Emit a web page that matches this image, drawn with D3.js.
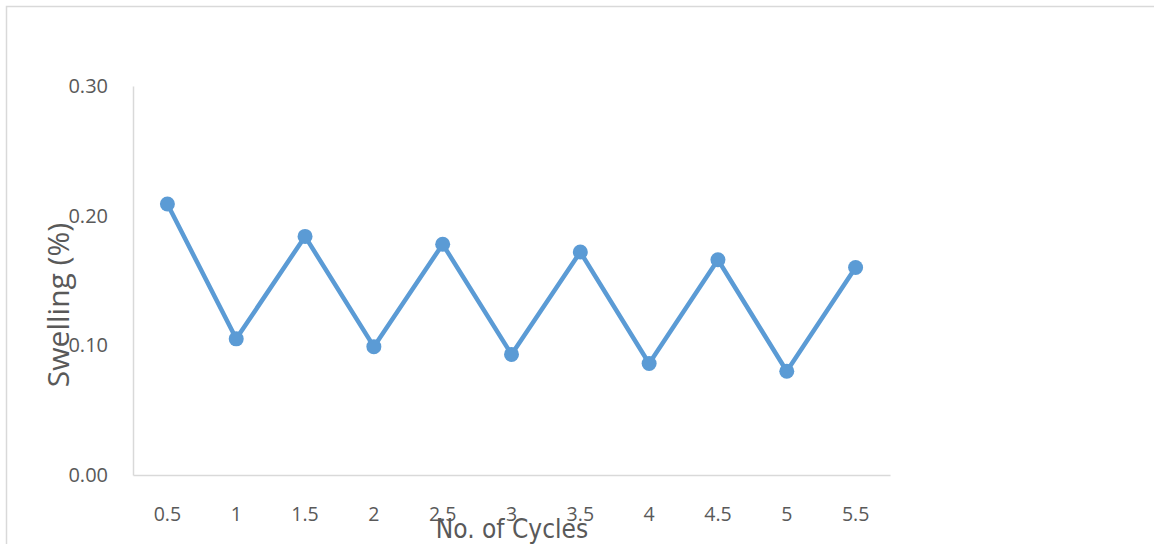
<!DOCTYPE html>
<html>
<head>
<meta charset="utf-8">
<script src="https://cdn.jsdelivr.net/npm/d3@7"></script>
<style>
  html, body { margin: 0; padding: 0; background: #fff; }
  svg { display: block; }
</style>
</head>
<body>
<svg id="chart" width="1154" height="544"></svg>
<script>
const categories = ["0.5", "1", "1.5", "2", "2.5", "3", "3.5", "4", "4.5", "5", "5.5"];
const swelling = [0.209, 0.105, 0.184, 0.099, 0.178, 0.093, 0.172, 0.086, 0.166, 0.080, 0.160];
const yTicks = [0.00, 0.10, 0.20, 0.30];
const xTitle = "No. of Cycles";
const yTitle = "Swelling (%)";

const svg = d3.select("#chart");
const textColor = "#595959";
const axisColor = "#d9d9d9";
const seriesColor = "#5b9bd5";
const font = "'Open Sans', 'Noto Sans', sans-serif";

// outer chart frame
svg.append("rect")
  .attr("x", 6.5).attr("y", 6.5)
  .attr("width", 1170).attr("height", 560)
  .attr("fill", "none").attr("stroke", axisColor).attr("stroke-width", 1.5);

const plot = { left: 133, right: 890, top: 86, bottom: 475 };

const x = d3.scaleBand().domain(categories).range([plot.left, plot.right]);
const y = d3.scaleLinear().domain([0, 0.30]).range([plot.bottom, plot.top]);

// y axis
const yAxis = svg.append("g")
  .attr("transform", `translate(${plot.left},0)`)
  .call(d3.axisLeft(y).tickValues(yTicks).tickFormat(d3.format(".2f")).tickSize(0).tickPadding(25));
yAxis.select(".domain").attr("stroke", axisColor).attr("stroke-width", 1.5);
yAxis.selectAll("text")
  .attr("fill", textColor)
  .attr("font-family", font)
  .attr("font-size", 20);

// x axis
const xAxis = svg.append("g")
  .attr("transform", `translate(0,${plot.bottom})`)
  .call(d3.axisBottom(x).tickSize(0).tickPadding(32));
xAxis.select(".domain").attr("stroke", axisColor).attr("stroke-width", 1.5);
xAxis.selectAll("text")
  .attr("fill", textColor)
  .attr("font-family", font)
  .attr("font-size", 19.5);

// axis titles
svg.append("text")
  .attr("x", 512).attr("y", 538)
  .attr("text-anchor", "middle")
  .attr("fill", textColor)
  .attr("font-family", "'Liberation Sans Narrow', 'DejaVu Sans Condensed', sans-serif")
  .attr("font-size", 26)
  .text(xTitle);

svg.append("text")
  .attr("transform", "translate(69,305) rotate(-90)")
  .attr("text-anchor", "middle")
  .attr("fill", textColor)
  .attr("font-family", font)
  .attr("font-size", 30)
  .text(yTitle);

// series line
const line = d3.line()
  .x((d, i) => x(categories[i]) + x.bandwidth() / 2)
  .y(d => y(d));

svg.append("path")
  .datum(swelling)
  .attr("d", line)
  .attr("fill", "none")
  .attr("stroke", seriesColor)
  .attr("stroke-width", 4.5)
  .attr("stroke-linejoin", "round");

svg.selectAll("circle.pt")
  .data(swelling)
  .join("circle")
  .attr("class", "pt")
  .attr("cx", (d, i) => x(categories[i]) + x.bandwidth() / 2)
  .attr("cy", d => y(d))
  .attr("r", 7.5)
  .attr("fill", seriesColor);
</script>
</body>
</html>
